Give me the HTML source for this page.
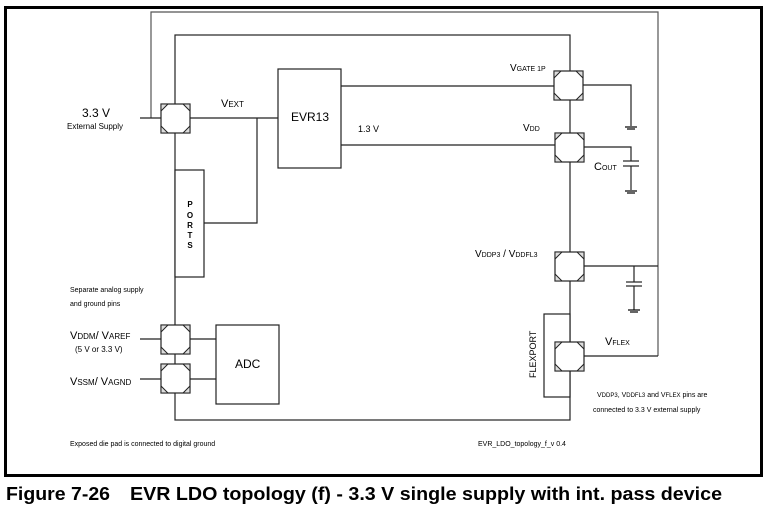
<!DOCTYPE html>
<html><head><style>
body{margin:0;background:#fff;}
svg text{font-family:"Liberation Sans",Arial,sans-serif;fill:#000;}
</style></head><body>
<svg width="767" height="506" viewBox="0 0 767 506" xmlns="http://www.w3.org/2000/svg">
<rect x="5.5" y="7.5" width="756" height="468" fill="none" stroke="#000" stroke-width="3"/>
<g fill="none" stroke="#222" stroke-width="1.2">
<polyline points="151,118 151,12 658,12 658,356" stroke="#555"/>
<rect x="175" y="35" width="395" height="385"/>
<line x1="140" y1="118" x2="161" y2="118"/>
<line x1="190" y1="118" x2="278" y2="118"/>
<rect x="278" y="69" width="63" height="99"/>
<line x1="341" y1="86" x2="555" y2="86"/>
<line x1="341" y1="145" x2="555" y2="145"/>
<polyline points="257,118 257,223 204,223"/>
<rect x="175" y="170" width="29" height="107" fill="#fff"/>
<polyline points="583,85 631,85 631,126"/>
<polyline points="584,147 631,147 631,161"/>
<line x1="623" y1="161" x2="639" y2="161"/>
<line x1="623" y1="166" x2="639" y2="166"/>
<line x1="631" y1="166" x2="631" y2="190"/>
<line x1="584" y1="266" x2="658" y2="266"/>
<line x1="634" y1="266" x2="634" y2="282"/>
<line x1="626" y1="282" x2="642" y2="282"/>
<line x1="626" y1="286" x2="642" y2="286"/>
<line x1="634" y1="286" x2="634" y2="310"/>
<rect x="544" y="314" width="26" height="83" fill="#fff"/>
<line x1="584" y1="356" x2="658" y2="356"/>
<line x1="140" y1="339" x2="161" y2="339"/>
<line x1="140" y1="379" x2="161" y2="379"/>
<line x1="190" y1="339" x2="216" y2="339"/>
<line x1="190" y1="379" x2="216" y2="379"/>
<rect x="216" y="325" width="63" height="79"/>
</g>
<g stroke="#000" stroke-width="1.2">
<line x1="625" y1="127" x2="637" y2="127"/><line x1="627" y1="129" x2="635" y2="129"/>
<line x1="625" y1="191" x2="637" y2="191"/><line x1="627" y1="193" x2="635" y2="193"/>
<line x1="628" y1="310" x2="640" y2="310"/><line x1="630" y1="312" x2="638" y2="312"/>
</g>
<defs>
<g id="pad"><rect x="0" y="0" width="29" height="29" fill="#fff" stroke="#222" stroke-width="1.2"/>
<path d="M0,0 L7,0 L0,7Z M29,0 L22,0 L29,7Z M0,29 L7,29 L0,22Z M29,29 L22,29 L29,22Z" fill="#ddd" stroke="#222" stroke-width="1"/></g>
</defs>
<use href="#pad" x="161" y="104"/>
<use href="#pad" x="554" y="71"/>
<use href="#pad" x="555" y="133"/>
<use href="#pad" x="555" y="252"/>
<use href="#pad" x="555" y="342"/>
<use href="#pad" x="161" y="325"/>
<use href="#pad" x="161" y="364"/>
<text x="82" y="117" font-size="12">3.3 V</text>
<text x="67" y="129" font-size="8">External Supply</text>
<text x="221" y="107" font-size="11">V<tspan font-size="8">EXT</tspan></text>
<text x="291" y="121" font-size="12">EVR13</text>
<text x="358" y="132" font-size="9">1.3 V</text>
<text x="510" y="71" font-size="10">V<tspan font-size="7">GATE 1P</tspan></text>
<text x="523" y="131" font-size="10">V<tspan font-size="7">DD</tspan></text>
<text x="594" y="170" font-size="11">C<tspan font-size="7">OUT</tspan></text>
<text x="475" y="257" font-size="10">V<tspan font-size="7">DDP3</tspan> / V<tspan font-size="7">DDFL3</tspan></text>
<text x="605" y="345" font-size="11">V<tspan font-size="7">FLEX</tspan></text>
<text x="597" y="397" font-size="7">V<tspan font-size="6">DDP3</tspan>, V<tspan font-size="6">DDFL3</tspan>  and V<tspan font-size="6">FLEX</tspan> pins are</text>
<text x="593" y="412" font-size="7">connected to 3.3 V external supply</text>
<text x="536" y="378" font-size="9" transform="rotate(-90 536 378)">FLEXPORT</text>
<g font-size="8" font-weight="bold" text-anchor="middle"><text x="190" y="207">P</text><text x="190" y="218">O</text><text x="190" y="228">R</text><text x="190" y="238">T</text><text x="190" y="248">S</text></g>
<text x="70" y="292" font-size="7">Separate analog supply</text>
<text x="70" y="306" font-size="7">and ground pins</text>
<text x="70" y="339" font-size="11">V<tspan font-size="8">DDM</tspan>/ V<tspan font-size="8">AREF</tspan></text>
<text x="75" y="352" font-size="8">(5 V or 3.3 V)</text>
<text x="70" y="385" font-size="11">V<tspan font-size="8">SSM</tspan>/ V<tspan font-size="8">AGND</tspan></text>
<text x="235" y="368" font-size="12">ADC</text>
<text x="70" y="446" font-size="7">Exposed die pad is connected to digital ground</text>
<text x="478" y="446" font-size="7">EVR_LDO_topology_f_v 0.4</text>
<text x="6" y="500" font-size="18" font-weight="bold" textLength="104" lengthAdjust="spacingAndGlyphs">Figure 7-26</text>
<text x="130" y="500" font-size="18" font-weight="bold" textLength="592" lengthAdjust="spacingAndGlyphs">EVR LDO topology (f) - 3.3 V single supply with int. pass device</text>
</svg>
</body></html>
